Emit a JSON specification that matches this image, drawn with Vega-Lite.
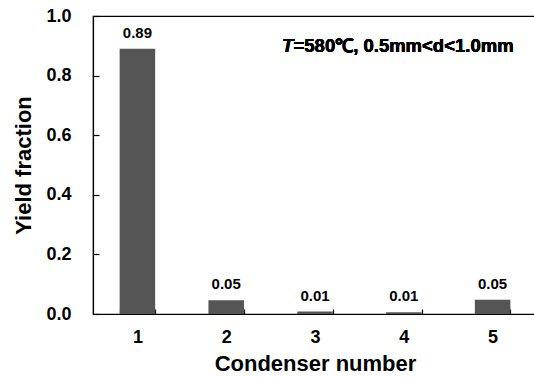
{
  "$schema": "https://vega.github.io/schema/vega-lite/v6.json",
  "width": 444,
  "height": 298,
  "autosize": {"type": "none"},
  "padding": {"left": 93, "top": 16, "right": 0, "bottom": 63},
  "background": "white",
  "config": {
    "font": "Liberation Sans",
    "view": {"stroke": "black", "strokeWidth": 1.2},
    "axis": {"grid": false, "domainColor": "black", "tickColor": "black", "labelColor": "black", "titleColor": "black", "labelFont": "Liberation Sans", "titleFont": "Liberation Sans", "labelFontWeight": "bold", "titleFontWeight": "bold"}
  },
  "data": {
    "values": [
      {"condenser": "1", "yield": 0.89},
      {"condenser": "2", "yield": 0.046},
      {"condenser": "3", "yield": 0.008},
      {"condenser": "4", "yield": 0.006},
      {"condenser": "5", "yield": 0.048}
    ]
  },
  "encoding": {
    "x": {
      "field": "condenser", "type": "ordinal", "title": "Condenser number",
      "scale": {"paddingInner": 0.6, "paddingOuter": 0.3},
      "axis": {"labelAngle": 0, "labelFontSize": 18, "titleFontSize": 22, "tickBand": "extent", "tickSize": -5, "labelPadding": 19, "titlePadding": 7, "domainWidth": 1.2, "tickWidth": 1.2}
    }
  },
  "layer": [
    {
      "mark": {"type": "bar", "color": "#555555"},
      "encoding": {
        "y": {
          "field": "yield", "type": "quantitative", "title": "Yield fraction",
          "scale": {"domain": [0, 1]},
          "axis": {"values": [0, 0.2, 0.4, 0.6, 0.8, 1.0], "format": ".1f", "labelFontSize": 18, "titleFontSize": 22, "tickSize": -6, "labelPadding": 28, "titlePadding": 10, "domainWidth": 1.2, "tickWidth": 1.2}
        }
      }
    },
    {
      "mark": {"type": "text", "fontWeight": "bold", "fontSize": 15, "dy": -8, "baseline": "bottom", "color": "black"},
      "encoding": {
        "y": {"field": "yield", "type": "quantitative"},
        "text": {"field": "yield", "type": "quantitative", "format": ".2f"}
      }
    },
    {
      "mark": {"type": "text", "fontWeight": "bold", "fontStyle": "italic", "fontSize": 18.5, "align": "left", "baseline": "middle", "dx": -33, "color": "black"},
      "encoding": {
        "x": {"datum": "3"},
        "y": {"datum": 0.9},
        "text": {"value": "T"}
      }
    },
    {
      "mark": {"type": "text", "fontWeight": "bold", "fontSize": 18.5, "align": "left", "baseline": "middle", "dx": -21.5, "color": "black"},
      "encoding": {
        "x": {"datum": "3"},
        "y": {"datum": 0.9},
        "text": {"value": "=580℃, 0.5mm<d<1.0mm"}
      }
    }
  ]
}
